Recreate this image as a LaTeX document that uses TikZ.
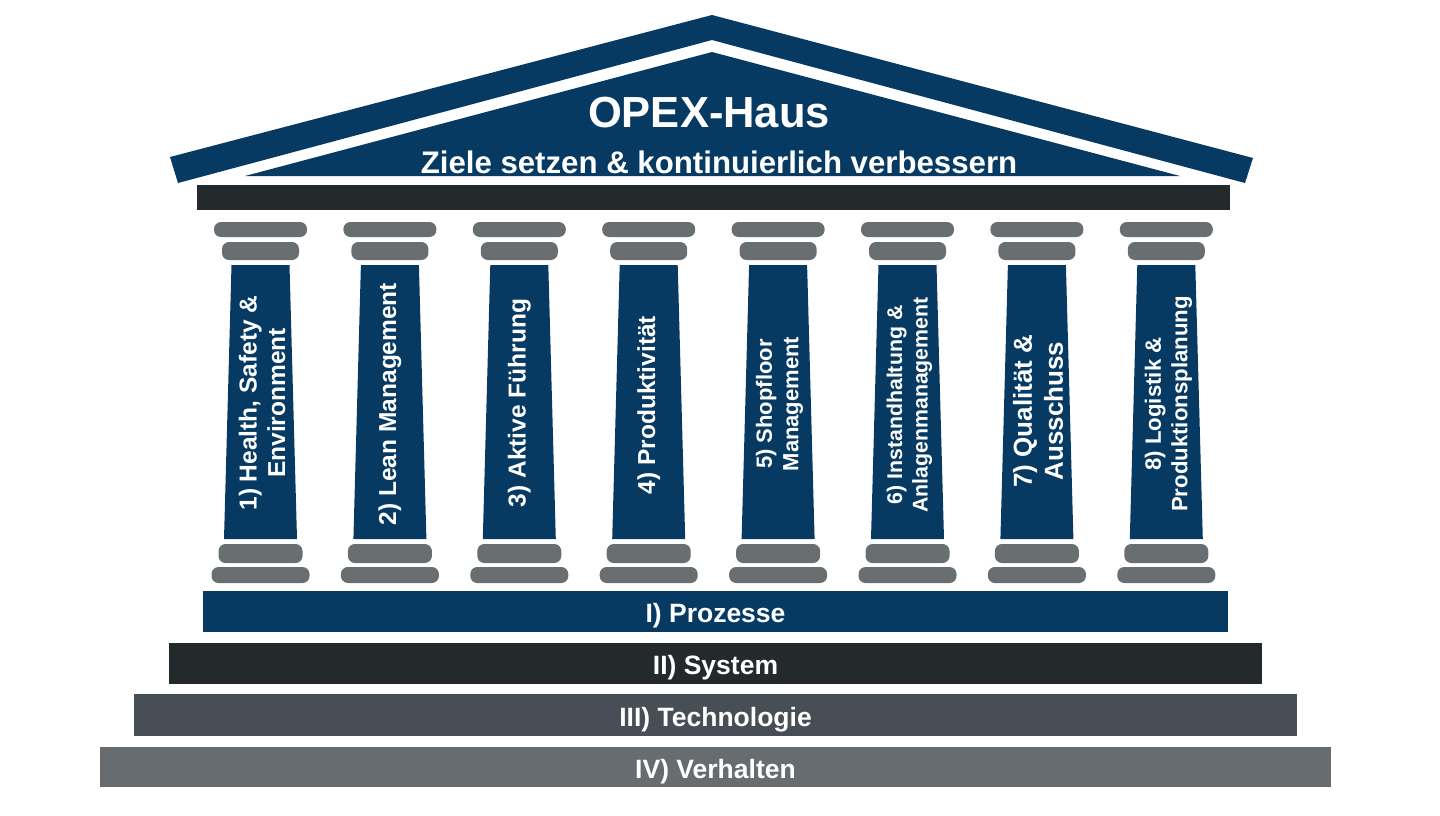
\documentclass[tikz,border=0pt]{standalone}
\usepackage{fontspec}
\setmainfont{Liberation Sans}
\usepackage{tikz}
\usetikzlibrary{shapes.geometric}
\definecolor{navy}{HTML}{063A62}
\definecolor{anthrazit}{HTML}{24292C}
\definecolor{schiefer}{HTML}{474E55}
\definecolor{steingrau}{HTML}{666C6F}
\definecolor{kapitellgrau}{HTML}{696E71}
\tikzstyle{kapitell} = [rectangle, rounded corners=7pt, fill=kapitellgrau, inner sep=0pt]
\tikzstyle{stufe} = [rectangle, inner sep=0pt, text height=22pt, text depth=0pt, text=white, font=\bfseries\fontsize{26.5}{31}\selectfont]
\tikzstyle{saeulentext} = [rotate=90, align=center, text=white, inner sep=0pt, font=\bfseries\fontsize{24.5}{28.5}\selectfont]

\begin{document}
\begin{tikzpicture}[x=1pt, y=-1pt]
	\useasboundingbox (0,0) rectangle (1440,815);
	% Dach
	\fill[navy] (170,157) -- (712,15) -- (1253,158) -- (1245,183) -- (712,40) -- (178,183) -- cycle;
	\fill[navy] (245,176) -- (712,52) -- (1180,176) -- cycle;
	\node (titel) [anchor=base, text=white, inner sep=0pt, font=\bfseries\fontsize{43.5}{48}\selectfont] at (709,127) {OPEX-Haus};
	\node (ziel) [anchor=base, text=white, inner sep=0pt, font=\bfseries\fontsize{31.2}{35}\selectfont] at (719,173) {Ziele setzen \& kontinuierlich verbessern};
	\node (architrav) [rectangle, fill=anthrazit, inner sep=0pt, minimum width=1033pt, minimum height=25pt] at (713.5,197.5) {};
	% Saeulen
	\foreach \i in {0,...,7} {
		\pgfmathsetmacro{\x}{260.5+129.4*\i}
		\node (kopfa\i) [kapitell, minimum width=93pt, minimum height=15pt] at (\x,229.5) {};
		\node (kopfb\i) [kapitell, minimum width=77pt, minimum height=18pt] at (\x,251) {};
		\fill[navy] (\x-29,265) -- (\x+29,265) -- (\x+36.5,539) -- (\x-36.5,539) -- cycle;
		\node (fussa\i) [kapitell, minimum width=84pt, minimum height=19pt] at (\x,553.5) {};
		\node (fussb\i) [kapitell, minimum width=98pt, minimum height=16pt] at (\x,575) {};
	}
	\node (hse) [saeulentext] at (262,403) {1) Health, Safety \&\\Environment};
	\node (lean) [saeulentext] at (389.9,404) {2) Lean Management};
	\node (fuehrung) [saeulentext] at (519.3,403) {3) Aktive Führung};
	\node (produktiv) [saeulentext] at (648.7,405) {4) Produktivität};
	\node (shopfloor) [saeulentext, font=\bfseries\fontsize{22}{26.5}\selectfont] at (779.5,404) {5) Shopfloor\\Management};
	\node (instand) [saeulentext, font=\bfseries\fontsize{21.3}{25.5}\selectfont] at (909.5,405) {6) Instandhaltung \&\\Anlagenmanagement};
	\node (qualitaet) [saeulentext, font=\bfseries\fontsize{26}{31}\selectfont] at (1038,411) {7) Qualität \&\\Ausschuss};
	\node (logistik) [saeulentext, font=\bfseries\fontsize{22.2}{26.5}\selectfont] at (1168.5,404) {8) Logistik \&\\Produktionsplanung};
	% Stufen
	\node (prozesse) [stufe, fill=navy, minimum width=1025pt, minimum height=41pt] at (715.5,611.5) {I) Prozesse};
	\node (system) [stufe, fill=anthrazit, minimum width=1093pt, minimum height=41pt] at (715.5,663.5) {II) System};
	\node (technologie) [stufe, fill=schiefer, minimum width=1163pt, minimum height=42pt] at (715.5,715) {III) Technologie};
	\node (verhalten) [stufe, fill=steingrau, minimum width=1231pt, minimum height=40pt] at (715.5,767) {IV) Verhalten};
\end{tikzpicture}
\end{document}
